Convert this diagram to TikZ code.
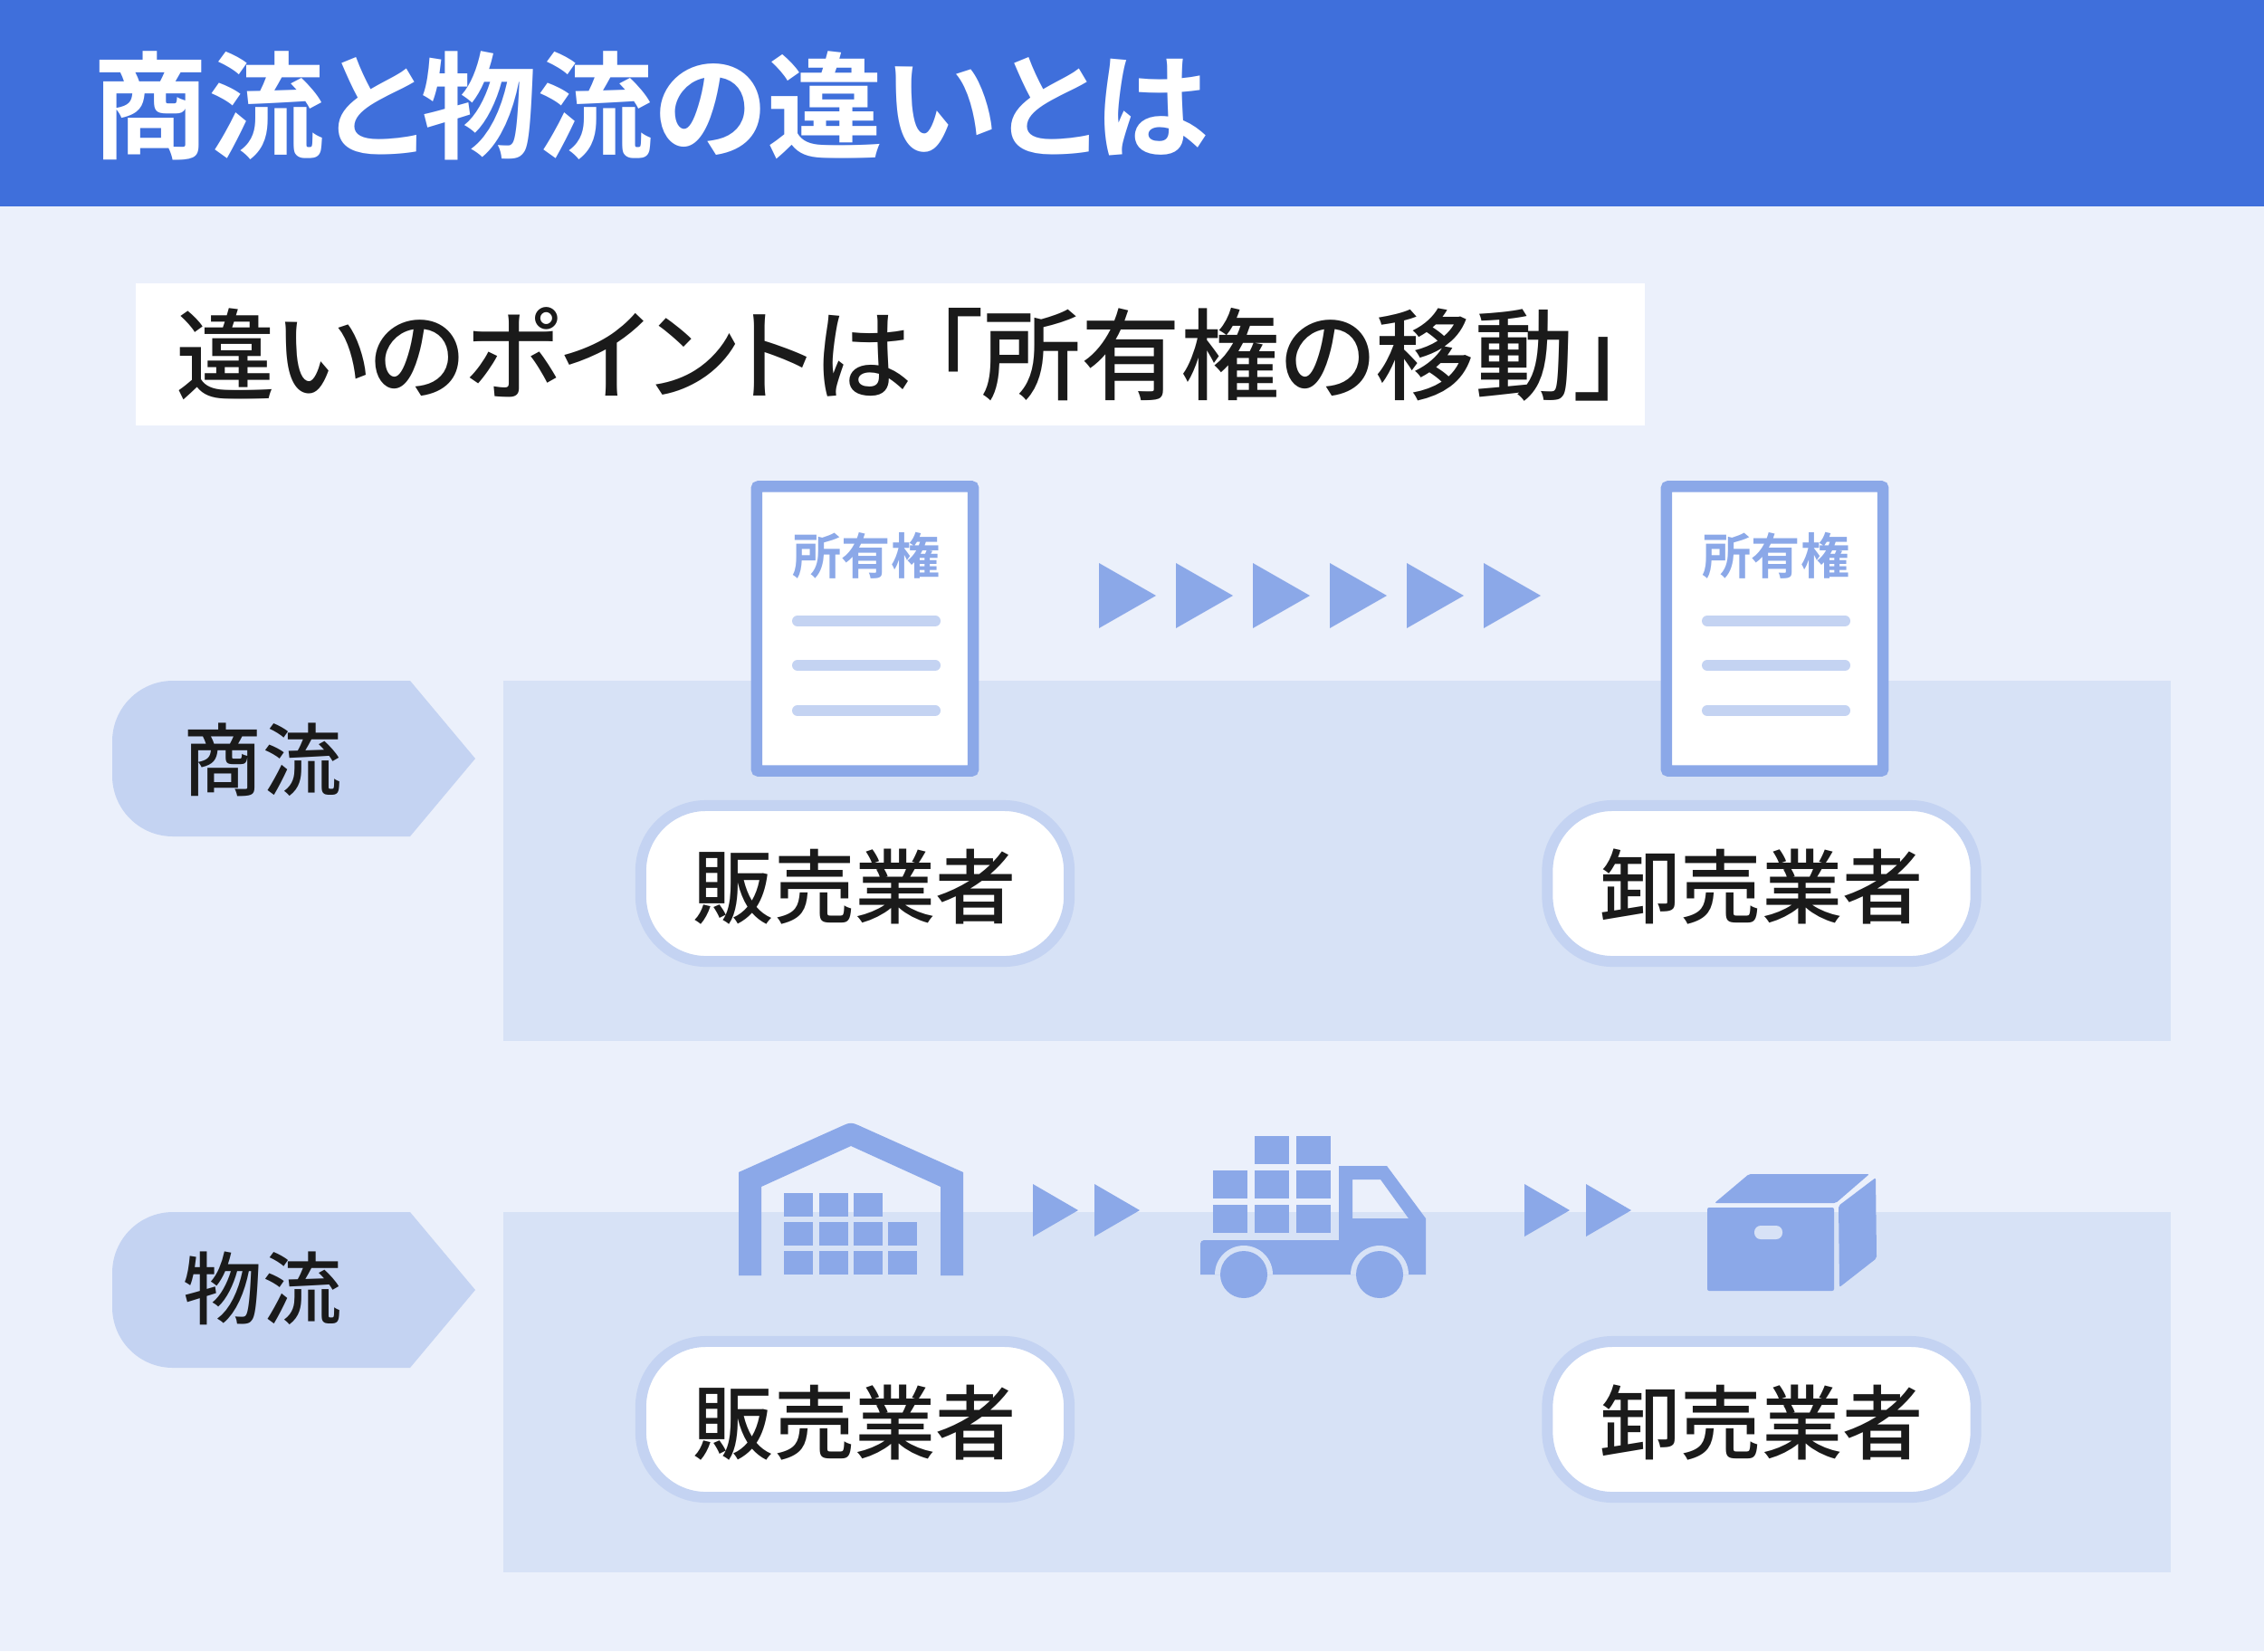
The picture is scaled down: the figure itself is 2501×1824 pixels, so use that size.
\documentclass[tikz,border=0pt]{standalone}
\usepackage{fontspec}
\setmainfont{Noto Sans CJK JP}
\newfontfamily\medfont[RawFeature=+palt]{Noto Sans CJK JP Medium}
\newfontfamily\plainmed{Noto Sans CJK JP Medium}
\newfontfamily\boldpalt[RawFeature=+palt]{Noto Sans CJK JP Bold}
\usetikzlibrary{positioning}

\definecolor{bgcol}{HTML}{EBF0FB}
\definecolor{barcol}{HTML}{3F6FDB}
\definecolor{bandcol}{HTML}{D7E2F6}
\definecolor{ringcol}{HTML}{C4D3F2}
\definecolor{iconcol}{HTML}{8BA8E8}
\definecolor{inkcol}{HTML}{1A1A1A}

\tikzset{
  pill/.style={draw=ringcol,fill=white,line width=0.12cm,rounded corners=0.72cm,minimum width=4.73cm,minimum height=1.72cm,inner sep=0pt,text=inkcol,text height=0.74cm,text depth=0cm,font=\fontsize{25.4}{25.4}\selectfont\plainmed},
  docbox/.style={draw=iconcol,fill=white,line width=0.125cm,rounded corners=0.02cm,minimum width=2.39cm,minimum height=3.14cm,inner sep=0pt},
  doctext/.style={text=iconcol,inner sep=0pt,font=\fontsize{15.4}{15.4}\selectfont\boldpalt},
  tagtext/.style={text=inkcol,inner sep=0pt,font=\fontsize{24.8}{24.8}\selectfont\plainmed},
  crate/.style={fill=iconcol}
}

\begin{document}
\begin{tikzpicture}[x=0.01cm,y=-0.01cm]
\useasboundingbox (0,0) rectangle (2501,1824);
\fill[bgcol] (0,0) rectangle (2501,1824);
\fill[barcol] (0,0) rectangle (2501,228);
\fill[white] (150,313) rectangle (1817,470);

\node (title) [anchor=west,text=white,inner sep=0pt,font=\fontsize{36.4}{36.4}\selectfont\boldpalt] at (102,117) {商流と物流の違いとは};
\node (point) [anchor=west,text=inkcol,inner sep=0pt,font=\fontsize{31.2}{31.2}\selectfont\medfont] at (194,391) {違いのポイントは\hspace{0.22cm}「所有権の移動」};

% bands and tags
\foreach \y/\t/\ty in {752/商流/839,1339/物流/1423} {
  \fill[bandcol] (556,\y) rectangle (2398,\y+398);
  \fill[ringcol] (453,\y) -- (525,\y+86) -- (453,\y+172) [rounded corners=0.67cm] -- (124,\y+172) -- (124,\y) [sharp corners] -- cycle;
  \node (tag\y) [tagtext] at (290,\ty) {\t};
}

% ownership papers
\foreach \x/\n in {957/a,1962/b} {
  \node (doc\n) [docbox] at (\x-1.5,694.5) {};
  \node (own\n) [doctext] at (\x,614) {所有権};
  \foreach \y in {686,735,785}
    \draw[ringcol,line width=0.12cm,line cap=round] (\x-76,\y) -- (\x+76,\y);
}
\foreach \i in {0,1,...,5}
  \fill[iconcol] (1214+85*\i,622) -- (1277+85*\i,658) -- (1214+85*\i,694) -- cycle;

% sellers and wholesalers
\foreach \y/\n in {976/a,1568/b} {
  \node (seller\n) [pill] at (944.5,\y) {販売業者};
  \node (whole\n) [pill] at (1946,\y) {卸売業者};
}

% warehouse
\fill[iconcol] (816,1409) -- (816,1295) -- (932,1243) .. controls (938,1240) and (942,1240) .. (948,1243) -- (1064,1295) -- (1064,1409) -- (1039,1409) -- (1039,1311) -- (940,1266) -- (841,1311) -- (841,1409) -- cycle;
\foreach \x/\y in {866/1318,905/1318,943/1318,866/1350,905/1350,943/1350,981/1350,866/1382,905/1382,943/1382,981/1382}
  \fill[crate] (\x,\y) rectangle +(32,26);

\foreach \x in {1141,1209,1684,1752}
  \fill[iconcol] (\x,1308) -- (\x+50,1337) -- (\x,1366) -- cycle;

% truck
\foreach \x/\y in {1386/1255,1432/1255,1340/1293,1386/1293,1432/1293,1340/1331,1386/1331,1432/1331}
  \fill[crate] (\x,\y) rectangle +(38,31);
\fill[iconcol,even odd rule] (1479,1288) -- (1532,1288) -- (1575,1346) -- (1575,1408) -- (1326,1408) [rounded corners=0.04cm] -- (1326,1370) [sharp corners] -- (1479,1370) -- cycle
  (1494,1303) -- (1525,1303) -- (1556,1346) -- (1494,1346) -- cycle;
\foreach \x in {1374,1524} {
  \fill[bandcol] (\x-32,1408) arc (180:360:32) -- cycle;
  \fill[iconcol] (\x,1408) circle (26);
}

% carton
\fill[iconcol,rounded corners=0.02cm] (1886,1334) rectangle (2026,1426);
\fill[bandcol,rounded corners=0.07cm] (1938,1354) rectangle (1969,1369);
\fill[iconcol,rounded corners=0.02cm] (1932,1297) -- (2065,1297) -- (2028,1329) -- (1894,1329) -- cycle;
\fill[iconcol,rounded corners=0.02cm] (2072,1301) -- (2073,1390) -- (2032,1422) -- (2031,1332) -- cycle;
\end{tikzpicture}
\end{document}
